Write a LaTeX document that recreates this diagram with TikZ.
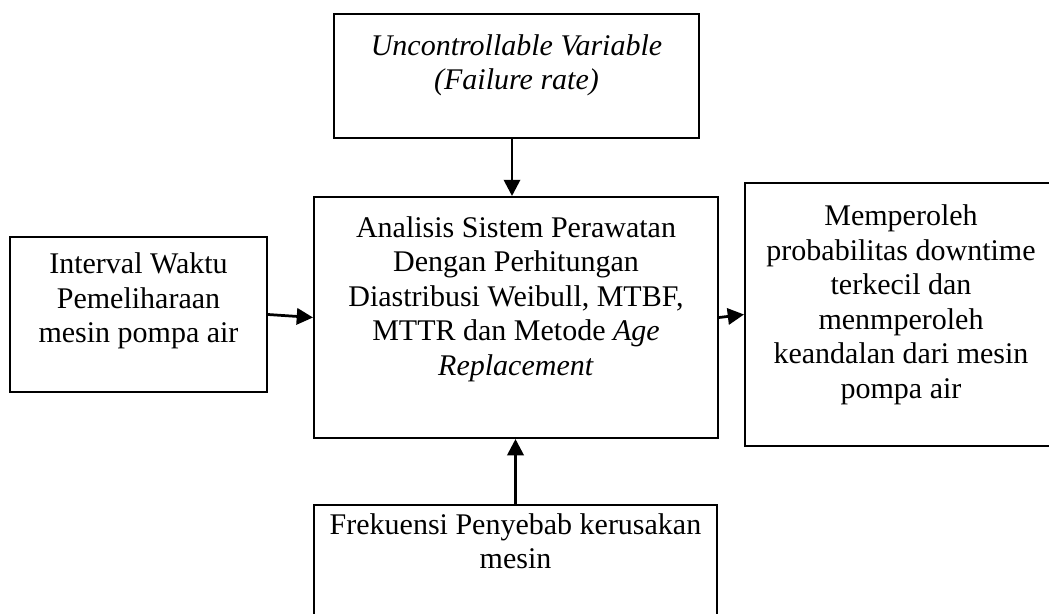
\documentclass[tikz,border=0pt]{standalone}
\usepackage{fontspec}
\setmainfont{Liberation Serif}
\usetikzlibrary{arrows.meta}

\tikzset{
	kotak/.style={draw, line width=0.8pt, rectangle, inner sep=0pt, anchor=north west},
	teks/.style={anchor=north, inner sep=0pt, align=center, font=\fontsize{12pt}{13.8pt}\selectfont},
	panah/.style={line width=1.1pt, -{Triangle[length=6.5pt,width=6.5pt]}}
}

\begin{document}
\begin{tikzpicture}[x=0.4pt, y=-0.4pt]
				\useasboundingbox (0,0) rectangle (1049,614);
				\clip (0,0) rectangle (1049,614);
				
				% kotak-kotak
				\node[kotak, minimum width=146pt, minimum height=49.6pt] (var) at (333,13) {};
				\node[kotak, minimum width=161.6pt, minimum height=96.4pt] (analisis) at (313,196) {};
				\node[kotak, minimum width=102.8pt, minimum height=62pt] (interval) at (9,236) {};
				\node[kotak, minimum width=124.8pt, minimum height=105.2pt] (hasil) at (744,182) {};
				\node[kotak, minimum width=161.2pt, minimum height=56pt] (frek) at (313,504) {};
				
				% teks di dalam kotak
				\node[teks] (tvar) at ([yshift=-8.4pt]var.north)
					{\textit{Uncontrollable Variable}\\\textit{(Failure rate)}};
				\node[teks] (tanalisis) at ([yshift=-8pt]analisis.north)
					{Analisis Sistem Perawatan\\Dengan Perhitungan\\Diastribusi Weibull, MTBF,\\MTTR dan Metode \textit{Age}\\\textit{Replacement}};
				\node[teks] (tinterval) at ([yshift=-6.6pt]interval.north)
					{Interval Waktu\\Pemeliharaan\\mesin pompa air};
				\node[teks] (thasil) at ([yshift=-9pt]hasil.north)
					{Memperoleh\\probabilitas downtime\\terkecil dan\\menmperoleh\\keandalan dari mesin\\pompa air};
				\node[teks] (tfrek) at ([yshift=-3.6pt]frek.north)
					{Frekuensi Penyebab kerusakan\\mesin};
				
				% panah
				\draw[panah] ([xshift=-1.8pt]var.south) -- ([xshift=-1.8pt]var.south |- analisis.north);
				\draw[panah] (interval.east) -- (analisis.west);
				\draw[panah] (analisis.east) -- (hasil.west);
				\draw[panah] (frek.north) -- (frek.north |- analisis.south);
			\end{tikzpicture}
\end{document}
